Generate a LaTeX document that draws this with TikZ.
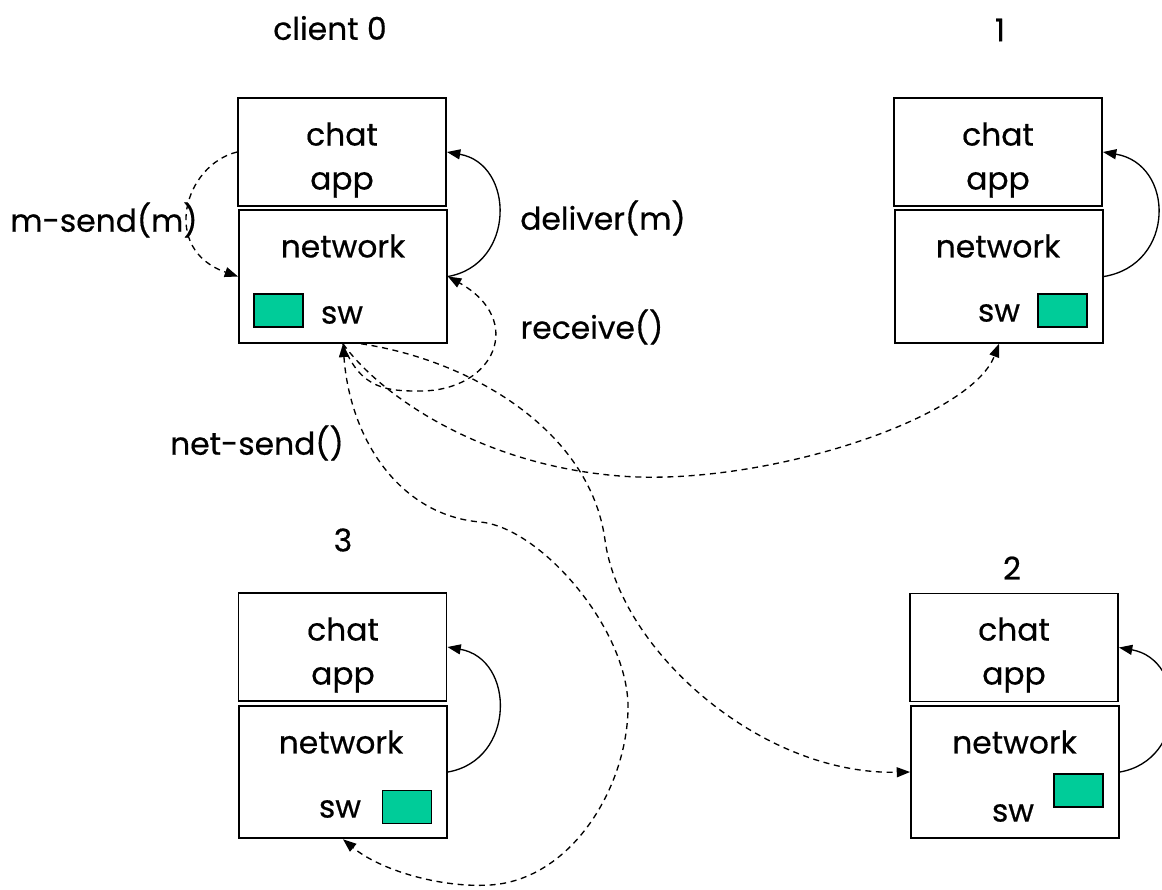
\documentclass[tikz,border=0pt]{standalone}
\usepackage{fontspec}
\setmainfont{Poppins}
\newfontfamily\lblfont{Poppins}[FakeBold=0.5]
\usetikzlibrary{arrows.meta}
\definecolor{swgreen}{RGB}{0,204,153}
\begin{document}
\begin{tikzpicture}[x=0.75pt,y=-0.75pt,
  chatbox/.style={draw, line width=1.4pt, minimum width=156pt, minimum height=81pt, inner sep=0pt},
  netbox/.style={draw, line width=1.4pt, minimum width=156pt, minimum height=99.5pt, inner sep=0pt},
  swbox/.style={draw, line width=1pt, fill=swgreen, minimum width=36.75pt, minimum height=24.75pt, inner sep=0pt},
  lbl/.style={font=\lblfont\fontsize{23.5}{33}\selectfont, inner sep=0pt, align=center},
  tip/.style={-{Triangle[length=10pt,width=7.5pt]}},
  solidarrow/.style={tip, line width=1pt},
  dasharrow/.style={tip, line width=1pt, dash pattern=on 4.5pt off 3.5pt}]
\useasboundingbox (0,0) rectangle (1162,889);

% client 0
\node[chatbox] (chat0) at (342,152) {};
\node[netbox] (net0) at (343,276.5) {};
\node[swbox] (sq0) at (278.5,310.5) {};
\node[lbl] (chat0t) at (342,160) {chat\\app};
\node[lbl] (net0t) at (343,246) {network};
\node[lbl] (sw0t) at (342,315) {sw};
\node[lbl] (c0) at (330,28) {client 0};

% client 1
\node[chatbox] (chat1) at (998,152) {};
\node[netbox] (net1) at (999,276.5) {};
\node[swbox] (sq1) at (1062.5,310.5) {};
\node[lbl] (chat1t) at (998,160) {chat\\app};
\node[lbl] (net1t) at (998,246) {network};
\node[lbl] (sw1t) at (999,313) {sw};
\node[lbl] (c1) at (1000,30) {1};

% client 3
\node[chatbox] (chat3) at (342.5,647) {};
\node[netbox] (net3) at (343,772) {};
\node[swbox] (sq3) at (407,807) {};
\node[lbl] (chat3t) at (343,655) {chat\\app};
\node[lbl] (net3t) at (341,742) {network};
\node[lbl] (sw3t) at (340,809) {sw};
\node[lbl] (c3) at (343,540) {3};

% client 2
\node[chatbox] (chat2) at (1014,647.5) {};
\node[netbox] (net2) at (1015,772) {};
\node[swbox] (sq2) at (1078.5,790.5) {};
\node[lbl] (chat2t) at (1014,655) {chat\\app};
\node[lbl] (net2t) at (1014.5,742) {network};
\node[lbl] (sw2t) at (1013,813) {sw};
\node[lbl] (c2) at (1012,568) {2};

% labels
\node[lbl] (lmsend) at (104,220) {m-send(m)};
\node[lbl] (ldeliver) at (603,218) {deliver(m)};
\node[lbl] (lreceive) at (592,327) {receive()};
\node[lbl] (lnetsend) at (257,443) {net-send()};

% waypoints
\coordinate (wr) at (420,391);
\coordinate (wa) at (620,476);
\coordinate (wb1) at (480,522);
\coordinate (wb2) at (628,710);
\coordinate (wb3) at (490,885);
\coordinate (wc) at (605,540);

% m-send
\draw[dasharrow] (chat0.west) .. controls +(-53,13) and +(-78,-27) .. (net0.west);
% deliver arcs
\draw[solidarrow] (net0.east) .. controls +(68,-12) and +(68,12) .. (chat0.east);
\draw[solidarrow] (net1.east) .. controls +(72,-12) and +(72,12) .. (chat1.east);
\draw[solidarrow] (net3.east) .. controls +(68,-12) and +(68,12) .. (chat3.east);
\draw[solidarrow] (net2.east) .. controls +(68,-12) and +(68,12) .. (chat2.east);
% receive
\draw[dasharrow] (net0.south) .. controls +(17,47) and +(-30,0) .. (wr)
  .. controls +(75,0) and +(78,43.5) .. (net0.east);
% net-send to 1
\draw[dasharrow] (net0.south) .. controls (380,395) and (480,465) .. (wa)
  .. controls (760,487) and (970,420) .. (net1.south);
% net-send to 3
\draw[dasharrow, {Triangle[length=10pt,width=7.5pt]}-{Triangle[length=10pt,width=7.5pt]}] (net0.south) .. controls (350,440) and (400,515) .. (wb1)
  .. controls (540,527) and (630,630) .. (wb2)
  .. controls (626,790) and (570,880) .. (wb3)
  .. controls (440,888) and (380,870) .. (net3.south);
% net-send to 2
\draw[dasharrow] ([xshift=13.5pt]net0.south) .. controls (470,360) and (590,430) .. (wc)
  .. controls (620,650) and (760,775) .. (net2.west);
\end{tikzpicture}
\end{document}
